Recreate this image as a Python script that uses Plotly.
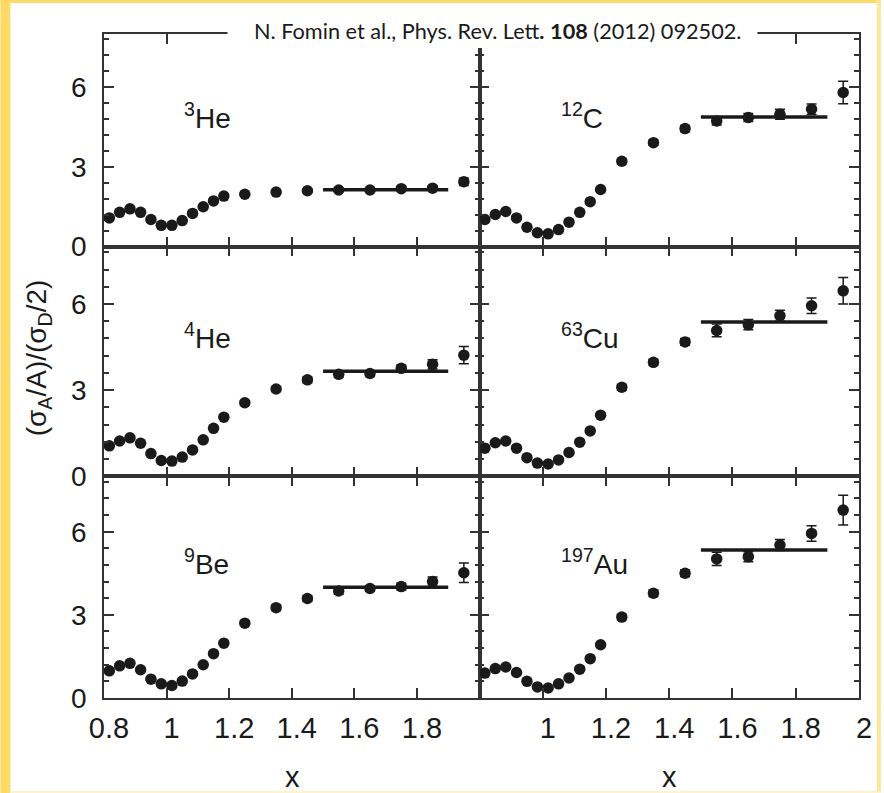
import plotly.graph_objects as go
from plotly.subplots import make_subplots

# Bjorken-x bin centres shared by every target
x_bins = [0.817, 0.85, 0.883, 0.917, 0.95, 0.983, 1.017, 1.05, 1.083, 1.117,
          1.15, 1.183, 1.25, 1.35, 1.45, 1.55, 1.65, 1.75, 1.85, 1.95]

# per-nucleon cross-section ratios to the deuteron
ratio_he3 = [1.08, 1.29, 1.42, 1.29, 1.02, 0.80, 0.80, 0.98, 1.25, 1.50,
             1.72, 1.90, 1.97, 2.05, 2.10, 2.13, 2.13, 2.18, 2.20, 2.44]
ratio_c12 = [1.02, 1.21, 1.32, 1.08, 0.73, 0.52, 0.48, 0.64, 0.92, 1.29,
             1.69, 2.15, 3.21, 3.91, 4.44, 4.73, 4.86, 4.98, 5.17, 5.80]
ratio_he4 = [1.06, 1.23, 1.34, 1.15, 0.79, 0.55, 0.53, 0.67, 0.92, 1.27,
             1.67, 2.06, 2.56, 3.04, 3.36, 3.55, 3.58, 3.76, 3.90, 4.22]
ratio_cu63 = [0.98, 1.17, 1.23, 0.98, 0.65, 0.46, 0.43, 0.57, 0.83, 1.19,
              1.58, 2.13, 3.10, 3.97, 4.68, 5.08, 5.28, 5.59, 5.94, 6.46]
ratio_be9 = [0.98, 1.16, 1.25, 1.02, 0.68, 0.51, 0.45, 0.61, 0.87, 1.20,
             1.60, 1.98, 2.70, 3.26, 3.59, 3.86, 3.95, 4.02, 4.20, 4.52]
ratio_au197 = [0.90, 1.06, 1.12, 0.92, 0.60, 0.40, 0.36, 0.51, 0.72, 1.04,
               1.42, 1.92, 2.92, 3.78, 4.50, 5.02, 5.10, 5.52, 5.94, 6.78]

# uncertainties
err_he3 = [0.03] * 12 + [0.06, 0.06, 0.06, 0.06, 0.06, 0.08, 0.08, 0.14]
err_c12 = [0.03] * 12 + [0.10, 0.10, 0.12, 0.15, 0.15, 0.19, 0.20, 0.42]
err_he4 = [0.03] * 12 + [0.08, 0.09, 0.10, 0.10, 0.10, 0.12, 0.16, 0.30]
err_cu63 = [0.03] * 12 + [0.10, 0.10, 0.12, 0.22, 0.18, 0.19, 0.27, 0.46]
err_be9 = [0.03] * 12 + [0.08, 0.10, 0.10, 0.12, 0.10, 0.12, 0.17, 0.35]
err_au197 = [0.03] * 12 + [0.10, 0.12, 0.12, 0.24, 0.18, 0.20, 0.28, 0.54]

# plateau (a2) values and the x interval they are fitted over
plateau_values = [2.14, 4.88, 3.66, 5.37, 4.00, 5.34]
plateau_x = [1.5, 1.9]

nucleus_labels = ["<sup>3</sup>He", "<sup>12</sup>C", "<sup>4</sup>He",
                  "<sup>63</sup>Cu", "<sup>9</sup>Be", "<sup>197</sup>Au"]
panel_ratios = [ratio_he3, ratio_c12, ratio_he4, ratio_cu63, ratio_be9, ratio_au197]
panel_errors = [err_he3, err_c12, err_he4, err_cu63, err_be9, err_au197]

x_tickvals = [0.8, 1.0, 1.2, 1.4, 1.6, 1.8, 2.0]
x_ticktext_left = ["0.8", "1", "1.2", "1.4", "1.6", "1.8", ""]
x_ticktext_right = ["", "1", "1.2", "1.4", "1.6", "1.8", "2"]
y_tickvals = [0, 3, 6]
y_ticktext = ["0", "3", "6"]

W, H = 884, 793
ML, MR, MT, MB = 104, 22, 34, 95
PW, PH = W - ML - MR, H - MT - MB

def px(xp):
    return (xp - ML) / PW

def py(yp):
    return (H - MB - yp) / PH

FONT = "Liberation Sans, Arial, Helvetica, sans-serif"
INK = "#1a1a1a"
AXIS = "#333333"

fig = make_subplots(rows=3, cols=2, horizontal_spacing=0, vertical_spacing=0,
                    row_heights=[212.7, 229.8, 221.8], column_widths=[377, 381])

for i in range(6):
    r, c = i // 2 + 1, i % 2 + 1
    fig.add_trace(go.Scatter(
        x=x_bins, y=panel_ratios[i], mode="markers",
        marker=dict(size=11.5, color=INK),
        error_y=dict(type="data", array=panel_errors[i], color=INK,
                     thickness=1.5, width=5),
        showlegend=False), row=r, col=c)
    fig.add_trace(go.Scatter(
        x=plateau_x, y=[plateau_values[i]] * 2, mode="lines",
        line=dict(color=INK, width=3.5), showlegend=False), row=r, col=c)
    fig.add_annotation(
        x=1.05, y=4.9, xref=f"x{i + 1 if i else ''}", yref=f"y{i + 1 if i else ''}",
        text=nucleus_labels[i], showarrow=False, xanchor="left", yanchor="middle",
        font=dict(family=FONT, size=28, color=INK))

    fig.update_xaxes(
        row=r, col=c, range=[0.8, 2.0], tickvals=x_tickvals,
        ticktext=x_ticktext_left if c == 1 else x_ticktext_right,
        showticklabels=(r == 3), ticks="inside", ticklen=10, tickwidth=1.5,
        tickcolor=AXIS, showline=True, linecolor=AXIS, linewidth=1.5,
        mirror="ticks", showgrid=False, zeroline=False,
        ticklabelstandoff=3, ticklabelshift=5,
        tickfont=dict(family=FONT, size=29, color=INK))
    fig.update_yaxes(
        row=r, col=c, range=[0, 8], tickvals=y_tickvals, ticktext=y_ticktext,
        showticklabels=(c == 1), ticks="inside", ticklen=10, tickwidth=1.5,
        tickcolor=AXIS, showline=True, linecolor=AXIS, linewidth=1.5,
        mirror="ticks", showgrid=False, zeroline=False,
        minor=dict(tick0=0, dtick=0.6, ticks="inside", ticklen=5,
                   tickwidth=1.5, tickcolor=AXIS, showgrid=False),
        ticklabelstandoff=10,
        tickfont=dict(family=FONT, size=28, color=INK))

YELLOW = "#FFD966"
shapes = [
    # page border strips
    dict(type="rect", xref="paper", yref="paper", x0=px(0), x1=px(10), y0=py(H), y1=py(0),
         fillcolor=YELLOW, line_width=0, layer="below"),
    dict(type="rect", xref="paper", yref="paper", x0=px(0), x1=px(W), y0=py(3), y1=py(0),
         fillcolor=YELLOW, line_width=0, layer="below"),
    dict(type="rect", xref="paper", yref="paper", x0=px(880), x1=px(W), y0=py(H), y1=py(0),
         fillcolor="#FFE599", line_width=0, layer="below"),
    dict(type="rect", xref="paper", yref="paper", x0=px(10), x1=px(W), y0=py(H), y1=py(791),
         fillcolor="#FFF3CC", line_width=0, layer="below"),
    # backing for the citation line
    dict(type="rect", xref="paper", yref="paper", x0=px(228), x1=px(760), y0=py(48), y1=py(16),
         fillcolor="white", line_width=0, layer="above"),
]

annotations = [
    dict(x=px(499), y=py(31), xref="paper", yref="paper", showarrow=False,
         text="N. Fomin et al., Phys. Rev. Lett<b>.</b> <b>108</b> (2012) 092502.",
         font=dict(family="Lato, Open Sans, sans-serif", size=21.7, color=INK),
         xanchor="center", yanchor="middle"),
    dict(x=px(38), y=py(358), xref="paper", yref="paper", showarrow=False,
         text="(σ<sub>A</sub>/A)/(σ<sub>D</sub>/2)", textangle=-90,
         font=dict(family=FONT, size=28, color=INK), xanchor="center", yanchor="middle"),
    dict(x=px(293), y=py(777), xref="paper", yref="paper", showarrow=False,
         text="x", font=dict(family=FONT, size=29, color=INK),
         xanchor="center", yanchor="middle"),
    dict(x=px(672), y=py(777), xref="paper", yref="paper", showarrow=False,
         text="x", font=dict(family=FONT, size=29, color=INK),
         xanchor="center", yanchor="middle"),
]
for a in annotations:
    fig.add_annotation(**a)

fig.update_layout(
    width=W, height=H, autosize=False,
    margin=dict(l=ML, r=MR, t=MT, b=MB),
    paper_bgcolor="white", plot_bgcolor="white",
    shapes=shapes, showlegend=False)

fig.write_html("out.html")
